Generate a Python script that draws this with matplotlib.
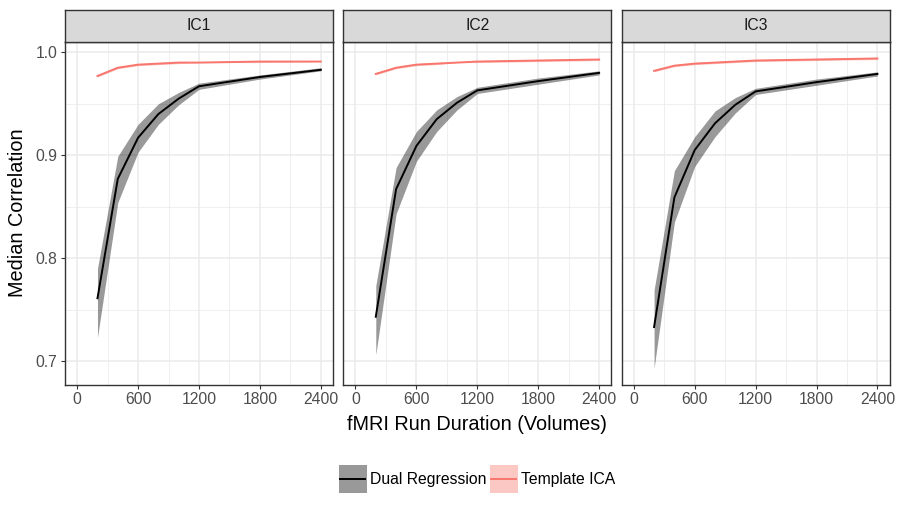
import matplotlib
matplotlib.use("Agg")
import matplotlib.pyplot as plt
from matplotlib.patches import Rectangle
from matplotlib.lines import Line2D
from matplotlib.legend_handler import HandlerBase

plt.rcParams['font.family'] = ['Liberation Sans', 'DejaVu Sans']

# ---- data ----
panels = ["IC1", "IC2", "IC3"]
volumes = [200, 400, 600, 800, 1000, 1200, 1800, 2400]

dr_med = {
    "IC1": [0.761, 0.877, 0.917, 0.940, 0.955, 0.967, 0.976, 0.983],
    "IC2": [0.743, 0.867, 0.909, 0.935, 0.951, 0.963, 0.972, 0.980],
    "IC3": [0.733, 0.859, 0.905, 0.931, 0.949, 0.962, 0.971, 0.979],
}
dr_low = {
    "IC1": [0.723, 0.854, 0.903, 0.930, 0.949, 0.964, 0.974, 0.982],
    "IC2": [0.706, 0.843, 0.894, 0.923, 0.944, 0.960, 0.969, 0.978],
    "IC3": [0.693, 0.835, 0.889, 0.918, 0.941, 0.959, 0.968, 0.977],
}
dr_high = {
    "IC1": [0.790, 0.899, 0.930, 0.950, 0.961, 0.970, 0.978, 0.985],
    "IC2": [0.773, 0.888, 0.923, 0.944, 0.957, 0.966, 0.975, 0.982],
    "IC3": [0.769, 0.885, 0.918, 0.943, 0.956, 0.965, 0.974, 0.981],
}
ti_med = {
    "IC1": [0.977, 0.985, 0.988, 0.989, 0.990, 0.990, 0.991, 0.991],
    "IC2": [0.979, 0.985, 0.988, 0.989, 0.990, 0.991, 0.992, 0.993],
    "IC3": [0.982, 0.987, 0.989, 0.990, 0.991, 0.992, 0.993, 0.994],
}
ti_low = {
    "IC1": [0.976, 0.984, 0.987, 0.988, 0.989, 0.990, 0.990, 0.991],
    "IC2": [0.978, 0.984, 0.987, 0.988, 0.990, 0.990, 0.991, 0.992],
    "IC3": [0.981, 0.986, 0.988, 0.989, 0.990, 0.991, 0.992, 0.993],
}
ti_high = {
    "IC1": [0.978, 0.986, 0.989, 0.990, 0.991, 0.991, 0.992, 0.992],
    "IC2": [0.980, 0.986, 0.989, 0.990, 0.991, 0.992, 0.993, 0.994],
    "IC3": [0.983, 0.988, 0.990, 0.991, 0.992, 0.993, 0.994, 0.995],
}
x_ticks = [0, 600, 1200, 1800, 2400]
y_ticks = [0.7, 0.8, 0.9, 1.0]
x_minor = [300, 900, 1500, 2100]
y_minor = [0.75, 0.85, 0.95]

series_names = ["Dual Regression", "Template ICA"]
series_colors = ["#000000", "#F8766D"]

# ---- layout ----
W, H = 900, 514
fig = plt.figure(figsize=(W / 100, H / 100), dpi=100)

lefts = [65, 343.3, 621.6]
pw = 268
top_px, bot_px = 41.7, 385
strip_top = 10

border = "#333333"
for i, name in enumerate(panels):
    l = lefts[i] / W
    ax = fig.add_axes([l, 1 - bot_px / H, pw / W, (bot_px - top_px) / H])
    ax.set_xlim(-120, 2520)
    ax.set_ylim(0.6767, 1.0103)
    ax.set_xticks(x_ticks)
    ax.set_xticks(x_minor, minor=True)
    ax.set_yticks(y_ticks)
    ax.set_yticks(y_minor, minor=True)
    ax.set_xticklabels([str(v) for v in x_ticks])
    if i == 0:
        ax.set_yticklabels(["%.1f" % v for v in y_ticks])
    else:
        ax.tick_params(axis='y', which='major', labelleft=False, left=False)
    ax.grid(True, which='major', color="#EBEBEB", lw=1.1, zorder=0)
    ax.grid(True, which='minor', color="#EBEBEB", lw=0.55, zorder=0)
    ax.set_axisbelow(True)
    ax.tick_params(axis='both', which='major', length=3.2, width=0.8,
                   color=border, labelcolor="#4D4D4D", labelsize=11.3, pad=2.2)
    ax.tick_params(axis='both', which='minor', length=0)
    for s in ax.spines.values():
        s.set_color(border)
        s.set_linewidth(1.0)

    ax.fill_between(volumes, ti_low[name], ti_high[name], color=series_colors[1],
                    alpha=0.4, lw=0, zorder=2)
    ax.fill_between(volumes, dr_low[name], dr_high[name], color=series_colors[0],
                    alpha=0.4, lw=0, zorder=2)
    ax.plot(volumes, ti_med[name], color=series_colors[1], lw=1.4, zorder=3)
    ax.plot(volumes, dr_med[name], color=series_colors[0], lw=1.4, zorder=3)

    # strip
    sax = fig.add_axes([l, 1 - top_px / H, pw / W, (top_px - strip_top) / H])
    sax.set_facecolor("#D9D9D9")
    sax.set_xticks([])
    sax.set_yticks([])
    for s in sax.spines.values():
        s.set_color(border)
        s.set_linewidth(1.0)
    sax.text(0.5, 0.5, name, ha='center', va='center', fontsize=11.3,
             color="#1A1A1A", transform=sax.transAxes)

fig.text(477 / W, 1 - 425 / H, "fMRI Run Duration (Volumes)", ha='center',
         va='center', fontsize=14.3, color="black")
fig.text(18 / W, 1 - 213 / H, "Median Correlation", ha='center', va='center',
         rotation=90, fontsize=14.3, color="black")


class KeyProxy:
    def __init__(self, color):
        self.color = color


class KeyHandler(HandlerBase):
    def create_artists(self, legend, orig_handle, xdescent, ydescent, width,
                       height, fontsize, trans):
        c = orig_handle.color
        rect = Rectangle((-xdescent, -ydescent), width, height, facecolor=c,
                         alpha=0.4, edgecolor='none', transform=trans)
        cy = -ydescent + height / 2
        pad = width * 0.06
        line = Line2D([-xdescent + pad, -xdescent + width - pad], [cy, cy],
                      color=c, lw=1.4, transform=trans)
        return [rect, line]


handles = [KeyProxy(c) for c in series_colors]
leg = fig.legend(handles, series_names, loc='center',
                 bbox_to_anchor=(477 / W, 1 - 479 / H), ncol=2, frameon=False,
                 fontsize=11.3, handlelength=1.8, handleheight=2.3,
                 handletextpad=0.2, columnspacing=0.2,
                 handler_map={KeyProxy: KeyHandler()})

fig.savefig("out.png", dpi=100)
